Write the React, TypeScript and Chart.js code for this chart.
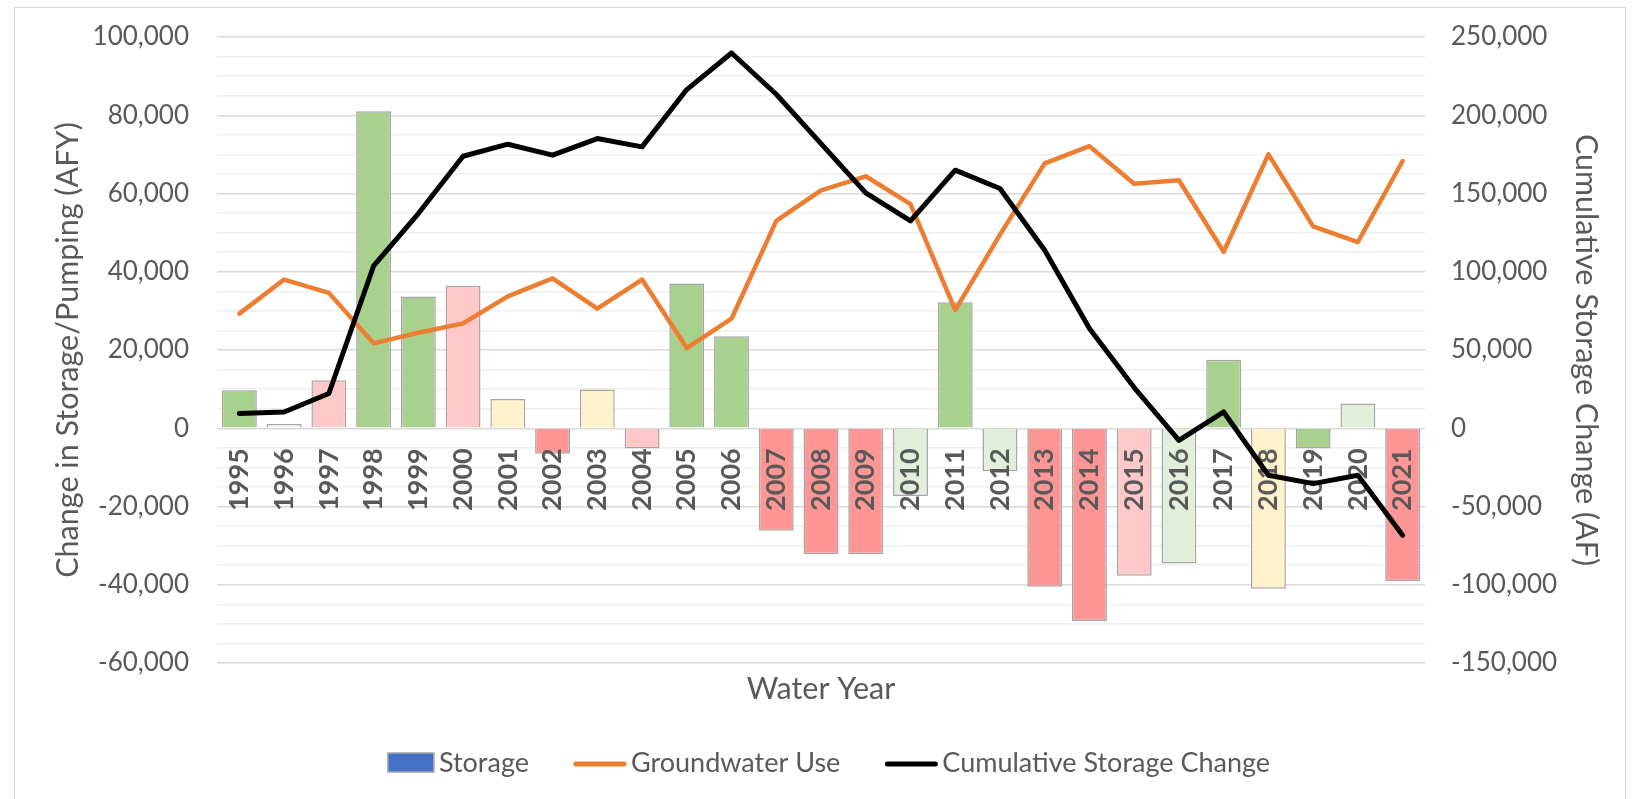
import React, { useEffect, useRef } from 'react';
import { Chart, registerables } from 'chart.js';

Chart.register(...registerables);

// ---------- data ----------
const years = [
  '1995', '1996', '1997', '1998', '1999', '2000', '2001', '2002', '2003', '2004',
  '2005', '2006', '2007', '2008', '2009', '2010', '2011', '2012', '2013', '2014',
  '2015', '2016', '2017', '2018', '2019', '2020', '2021',
];

const storageChange = [
  9700, 1100, 12300, 81000, 33700, 36400, 7500, -6500, 9900, -5200,
  37000, 23500, -26200, -32200, -32200, -17300, 32200, -11000, -40500, -49300,
  -37700, -34600, 17500, -41000, -5200, 6300, -39100,
];

const groundwaterUse = [
  29300, 38000, 34600, 21700, 24400, 26800, 33700, 38300, 30600, 38000,
  20500, 28000, 53000, 60800, 64400, 57300, 30200, 49500, 67700, 72100,
  62500, 63400, 45100, 70000, 51600, 47600, 68300,
];

const cumulativeStorage = [
  9400, 10400, 22200, 103700, 137200, 173800, 181500, 174500, 185100, 179800,
  216400, 239800, 213400, 181900, 150400, 132500, 164900, 153200, 113700, 63700,
  26000, -7700, 10400, -30000, -35400, -30000, -68400,
];

const leftTickValues = [-60000, -40000, -20000, 0, 20000, 40000, 60000, 80000, 100000];
const rightTickValues = [-150000, -100000, -50000, 0, 50000, 100000, 150000, 200000, 250000];

// ---------- styles ----------
const GREEN = '#A9D18E';
const PINK = '#FFC9C9';
const YELLOW = '#FFF2CC';
const RED = '#FF9696';
const LIGHT_GREEN = '#E2EFDA';
const WHITE = '#F7F7F7';
const barColors = [
  GREEN, WHITE, PINK, GREEN, GREEN, PINK, YELLOW, RED, YELLOW, PINK,
  GREEN, GREEN, RED, RED, RED, LIGHT_GREEN, GREEN, LIGHT_GREEN, RED, RED,
  PINK, LIGHT_GREEN, GREEN, YELLOW, GREEN, LIGHT_GREEN, RED,
];

const FONT = "Lato, 'Open Sans', sans-serif";
const TEXT = '#595959';
const TRANSPARENT = 'rgba(0,0,0,0)';
const W = 1639;
const H = 799;

// Draw the category labels of the x axis right after the bars, so they sit
// above the bars but below the two lines (as in the Excel original).
const labelLayerPlugin = {
  id: 'labelLayer',
  beforeDraw(chart: any) {
    const sx = chart.scales.x;
    if (sx && !sx.__origDrawLabels) {
      sx.__origDrawLabels = sx.drawLabels;
      sx.drawLabels = () => {};
    }
  },
  afterDatasetDraw(chart: any, args: any) {
    if (args.index !== 0) return;
    const sx = chart.scales.x;
    if (sx && sx.__origDrawLabels) sx.__origDrawLabels.call(sx, chart.chartArea);
  },
};

const legendPlugin = {
  id: 'customLegend',
  afterDraw(chart: any) {
    const ctx = chart.ctx as CanvasRenderingContext2D;
    const ds = chart.data.datasets;
    ctx.save();
    ctx.font = `27px ${FONT}`;
    ctx.textBaseline = 'middle';
    ctx.fillStyle = TEXT;
    const markerW = [46, 52, 52];
    const gapText = 5;
    const gapItem = 45;
    const widths = ds.map((d: any, i: number) => markerW[i] + gapText + ctx.measureText(d.label).width);
    const total = widths.reduce((a: number, b: number) => a + b, 0) + gapItem * (ds.length - 1);
    let x = 829 - total / 2;
    const cy = 763;
    ds.forEach((d: any, i: number) => {
      if (d.type === 'bar') {
        ctx.fillStyle = '#4472C4';
        ctx.fillRect(x, cy - 10, markerW[i], 19);
        ctx.strokeStyle = '#A6A6A6';
        ctx.lineWidth = 1.5;
        ctx.strokeRect(x, cy - 10, markerW[i], 19);
      } else {
        ctx.strokeStyle = d.borderColor;
        ctx.lineWidth = 5;
        ctx.lineCap = 'round';
        ctx.beginPath();
        ctx.moveTo(x + 2, cy + 1);
        ctx.lineTo(x + markerW[i] - 2, cy + 1);
        ctx.stroke();
      }
      ctx.fillStyle = TEXT;
      ctx.fillText(d.label, x + markerW[i] + gapText, cy);
      x += widths[i] + gapItem;
    });
    ctx.restore();
  },
};

export default function App() {
  const canvasRef = useRef<HTMLCanvasElement | null>(null);

  useEffect(() => {
    if (!canvasRef.current) return;
    const chart = new Chart(canvasRef.current, {
      type: 'bar',
      data: {
        labels: years,
        datasets: [
          {
            type: 'bar',
            label: 'Storage',
            data: storageChange,
            backgroundColor: barColors,
            borderColor: '#A6A6A6',
            borderWidth: 1.5,
            yAxisID: 'y',
            xAxisID: 'x',
            order: 3,
            categoryPercentage: 1,
            barPercentage: 0.78,
          } as any,
          {
            type: 'line',
            label: 'Groundwater Use',
            data: groundwaterUse,
            borderColor: '#ED7D31',
            backgroundColor: '#ED7D31',
            borderWidth: 4.5,
            pointRadius: 0,
            tension: 0,
            borderJoinStyle: 'round',
            borderCapStyle: 'round',
            yAxisID: 'y',
            xAxisID: 'x',
            order: 2,
          } as any,
          {
            type: 'line',
            label: 'Cumulative Storage Change',
            data: cumulativeStorage,
            borderColor: '#000000',
            backgroundColor: '#000000',
            borderWidth: 5,
            pointRadius: 0,
            tension: 0,
            borderJoinStyle: 'round',
            borderCapStyle: 'round',
            yAxisID: 'y1',
            xAxisID: 'x',
            order: 1,
          } as any,
        ],
      },
      options: {
        responsive: false,
        animation: false,
        devicePixelRatio: 1,
        layout: { padding: { left: 0, right: 0, top: 37, bottom: 92 } },
        plugins: {
          legend: { display: false },
          tooltip: { enabled: false },
        },
        scales: {
          x: {
            type: 'category',
            position: { y: 0 } as any,
            grid: { display: false, drawTicks: false },
            border: { display: false },
            ticks: {
              minRotation: 90,
              maxRotation: 90,
              autoSkip: false,
              padding: 20,
              color: TEXT,
              font: { family: FONT, size: 27, weight: 'bold' },
            },
          } as any,
          x2: {
            type: 'category',
            position: 'bottom',
            grid: { display: false, drawTicks: false },
            border: { display: false },
            ticks: { display: false },
            title: {
              display: true,
              text: 'Water Year',
              color: TEXT,
              font: { family: FONT, size: 30.5 },
              padding: { top: 9, bottom: 0 },
            },
            afterFit: (s: any) => { s.height = 44; },
          } as any,
          y: {
            type: 'linear',
            position: 'left',
            min: leftTickValues[0],
            max: leftTickValues[leftTickValues.length - 1],
            grid: {
              drawTicks: true,
              tickLength: 28,
              tickColor: TRANSPARENT,
              lineWidth: 1.5,
              color: (c: any) => (leftTickValues.includes(c.tick?.value) ? '#D9D9D9' : '#EFEFEF'),
            },
            border: { display: false },
            ticks: {
              stepSize: 5000,
              autoSkip: false,
              padding: 0,
              color: TEXT,
              font: { family: FONT, size: 26 },
              callback: (v: any) => (leftTickValues.includes(Number(v)) ? Number(v).toLocaleString('en-US') : ''),
            },
            title: {
              display: true,
              text: 'Change in Storage/Pumping (AFY)',
              color: TEXT,
              font: { family: FONT, size: 30.5 },
              padding: { top: 50, bottom: 0 },
            },
            afterFit: (s: any) => { s.width = 217; },
          } as any,
          y1: {
            type: 'linear',
            position: 'right',
            min: rightTickValues[0],
            max: rightTickValues[rightTickValues.length - 1],
            grid: {
              display: true,
              drawOnChartArea: false,
              drawTicks: true,
              tickLength: 26,
              tickColor: TRANSPARENT,
            },
            border: { display: false },
            ticks: {
              stepSize: 50000,
              autoSkip: false,
              padding: 0,
              color: TEXT,
              font: { family: FONT, size: 26 },
              callback: (v: any) => Number(v).toLocaleString('en-US'),
            },
            title: {
              display: true,
              text: 'Cumulative Storage Change (AF)',
              color: TEXT,
              font: { family: FONT, size: 30.5 },
              padding: { top: 35, bottom: 0 },
            },
            afterFit: (s: any) => { s.width = 214; },
          } as any,
        },
      } as any,
      plugins: [labelLayerPlugin, legendPlugin],
    });
    return () => chart.destroy();
  }, []);

  return (
    <div style={{ position: 'fixed', left: 0, top: 0, width: W, height: H, overflow: 'hidden', background: '#fff' }}>
      <canvas ref={canvasRef} width={W} height={H} style={{ position: 'absolute', left: 0, top: 0, width: W, height: H }} />
      <div style={{ position: 'absolute', left: 14, top: 7, width: 1610, height: 900, border: '1.5px solid #D9D9D9', pointerEvents: 'none' }} />
    </div>
  );
}
